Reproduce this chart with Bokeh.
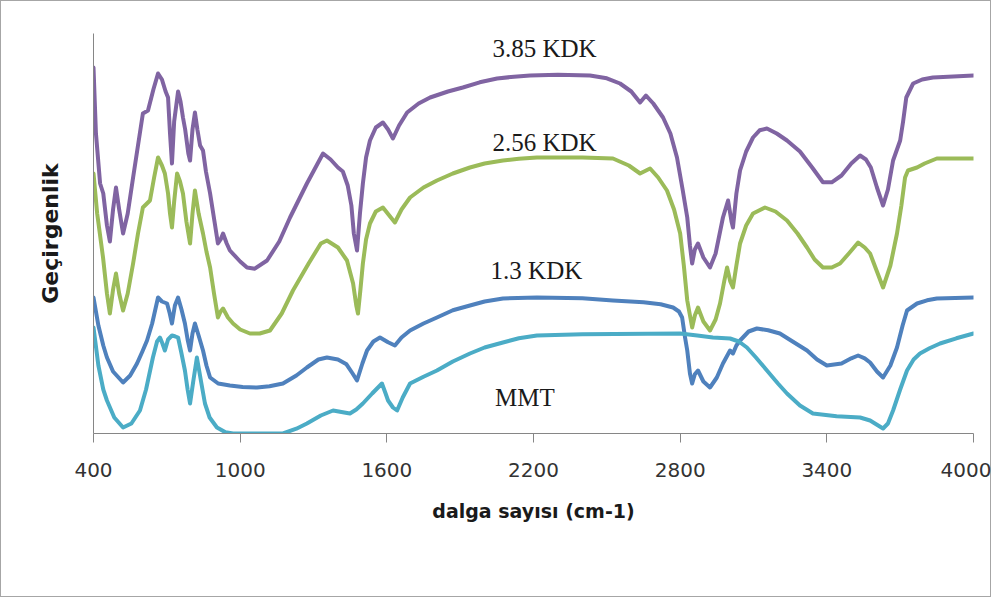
from bokeh.plotting import figure
from bokeh.models import Range1d, FixedTicker, Label, InlineStyleSheet
from bokeh.embed import file_html
from bokeh.resources import INLINE

# wavenumber (cm-1), transmittance (arbitrary units, 0-100)
KDK385 = [(400, 91.5), (410, 75), (427, 62.5), (440, 60), (455, 52), (467, 48), (480, 56), (492, 61.5),
          (505, 56), (521, 50), (540, 55), (562, 64), (582, 72), (602, 80), (623, 80.75), (645, 86), (664, 90),
          (680, 88.5), (695, 85.5), (705, 84), (713, 75), (721, 67.5), (730, 78), (746, 85.5), (756, 83),
          (766, 79), (775, 76), (788, 70), (795, 68.25), (805, 76), (815, 80.25), (825, 76), (836, 72),
          (848, 70.75), (860, 65.5), (877, 60), (895, 53), (909, 47.5), (920, 48.5), (930, 50), (945, 47.5),
          (958, 45.75), (1000, 43), (1028, 41.5), (1060, 41.2), (1110, 43.25), (1160, 48), (1204, 54),
          (1273, 62.5), (1339, 70), (1370, 68.5), (1400, 66.5), (1420, 65.5), (1440, 62), (1455, 57), (1465, 50),
          (1478, 45.75), (1490, 55), (1502, 62.5), (1515, 69), (1531, 73.25), (1555, 76.5), (1584, 77.75),
          (1605, 76), (1625, 73.75), (1650, 77), (1683, 80.25), (1730, 82.5), (1777, 84), (1850, 85.5),
          (1911, 86.5), (1980, 87.8), (2051, 88.75), (2120, 89.2), (2186, 89.5), (2300, 89.7), (2431, 89.5),
          (2500, 88.8), (2554, 87.5), (2600, 85.5), (2636, 82.75), (2660, 84.5), (2690, 82.5), (2730, 79),
          (2760, 75), (2787, 69), (2810, 61), (2829, 54), (2840, 47), (2849, 42.5), (2860, 46), (2873, 47.5),
          (2895, 44), (2922, 41.5), (2945, 45), (2975, 54), (2996, 58.25), (3010, 53), (3016, 51.5), (3030, 60),
          (3045, 65.75), (3070, 70.5), (3098, 74), (3125, 75.8), (3155, 76.25), (3195, 75), (3237, 73.25),
          (3290, 70.5), (3340, 66.5), (3384, 62.8), (3420, 62.8), (3460, 64.5), (3500, 67.5), (3536, 69.5),
          (3560, 68.5), (3580, 66.5), (3605, 61.5), (3630, 57), (3650, 61), (3671, 68.25), (3700, 73.25),
          (3712, 78), (3725, 84), (3753, 87.5), (3790, 88.5), (3834, 89), (4000, 89.5)]

KDK256 = [(400, 65), (415, 55), (439, 44), (455, 35), (467, 30), (480, 36), (492, 40), (505, 35), (521, 30.75),
          (540, 35), (562, 42.5), (582, 50), (602, 56.5), (631, 58.25), (648, 64), (664, 69), (680, 67), (692, 65),
          (705, 60), (713, 55), (721, 51.5), (730, 58), (742, 65), (754, 63), (766, 60), (780, 53), (795, 47.5),
          (805, 55), (815, 60.75), (830, 55), (848, 50), (862, 45.5), (877, 41.5), (893, 35), (909, 29),
          (920, 30.5), (930, 31.25), (950, 29), (971, 27.5), (1000, 26), (1040, 25), (1080, 25), (1122, 25.75),
          (1170, 30), (1216, 35.75), (1280, 42.5), (1330, 47.5), (1355, 48.25), (1400, 46.5), (1437, 43.25),
          (1462, 37.5), (1475, 32), (1482, 30), (1492, 36), (1502, 42.5), (1515, 48.5), (1531, 52.5), (1555, 55.5),
          (1584, 56.5), (1610, 54.5), (1633, 52.75), (1660, 56), (1695, 59), (1750, 61.5), (1805, 63.25),
          (1870, 65), (1940, 66.5), (2000, 67.5), (2075, 68.25), (2140, 68.7), (2214, 69), (2400, 69),
          (2525, 68.75), (2590, 67), (2636, 65), (2677, 66.25), (2710, 64), (2746, 60.75), (2775, 56), (2800, 50),
          (2815, 42), (2829, 33.25), (2849, 26.5), (2860, 29.5), (2873, 31.5), (2895, 28), (2922, 25.75),
          (2945, 28.5), (2963, 32.5), (2980, 38), (2992, 41.5), (3005, 38), (3016, 36.5), (3030, 42), (3045, 47.5),
          (3070, 52), (3098, 55), (3147, 56.5), (3190, 55.5), (3237, 53.25), (3280, 50), (3319, 46.5), (3350, 43.5),
          (3384, 41.5), (3420, 41.5), (3454, 42.5), (3490, 45), (3528, 47.75), (3555, 46.5), (3577, 45),
          (3605, 40.5), (3630, 36.5), (3660, 42), (3687, 50), (3705, 57), (3720, 64), (3732, 65.75), (3769, 66.5),
          (3800, 67.5), (3850, 68.75), (4000, 68.75)]

KDK13 = [(400, 34), (420, 27), (440, 22), (455, 19), (480, 15.5), (521, 12.75), (550, 14.5), (578, 17.5),
         (600, 20.5), (619, 23.25), (640, 27.5), (664, 34), (680, 33), (701, 32.5), (712, 30), (721, 27.5),
         (733, 32), (746, 34), (760, 31), (774, 27.5), (785, 23.5), (795, 20.75), (805, 25), (815, 27.5),
         (830, 24.5), (848, 20.75), (862, 17), (877, 14), (910, 12.5), (958, 12), (1010, 11.6), (1069, 11.5),
         (1120, 11.8), (1175, 12.5), (1230, 14.5), (1273, 16.5), (1320, 18.5), (1355, 19), (1400, 18.5),
         (1435, 17.3), (1460, 15), (1478, 13.25), (1500, 17.5), (1519, 20.75), (1545, 23), (1572, 24),
         (1605, 22.8), (1633, 22), (1660, 24), (1695, 25.75), (1750, 27.5), (1805, 29), (1870, 30.8), (1940, 32),
         (2000, 33), (2075, 33.75), (2214, 34), (2400, 33.8), (2525, 33.25), (2650, 32.8), (2720, 32.3),
         (2771, 31.5), (2795, 30.5), (2808, 29), (2820, 24), (2829, 20.75), (2840, 15), (2849, 12.5),
         (2860, 14.8), (2873, 15.75), (2895, 13), (2922, 11.5), (2950, 14), (2975, 17.5), (3004, 20.75),
         (3016, 20), (3030, 22), (3045, 23.25), (3080, 25.5), (3114, 26.25), (3160, 25.8), (3208, 25),
         (3260, 23), (3319, 20.75), (3360, 18.5), (3400, 17), (3460, 17.5), (3500, 18.8), (3528, 19.5),
         (3555, 18.8), (3577, 17.75), (3605, 15.5), (3630, 14), (3660, 17), (3687, 21.5), (3710, 27),
         (3728, 30.75), (3769, 32.5), (3810, 33.3), (3850, 33.75), (4000, 34)]

MMT = [(400, 26.5), (420, 17), (440, 11), (455, 8.25), (485, 4), (521, 1.5), (555, 2.5), (590, 5.75), (615, 11),
       (643, 19), (660, 23), (672, 24), (682, 22.5), (692, 20.75), (705, 23.5), (721, 24.5), (733, 24.3),
       (746, 24), (760, 20), (774, 15.75), (785, 11), (795, 7.5), (808, 13), (823, 19), (840, 13), (856, 7.5),
       (875, 4), (905, 1.5), (940, 0.3), (971, 0), (1175, 0), (1230, 1.2), (1273, 2.5), (1330, 4.5),
       (1380, 5.75), (1420, 5.3), (1449, 5), (1475, 6), (1502, 7.5), (1540, 10), (1580, 12.5), (1595, 10),
       (1605, 8.25), (1625, 6.5), (1642, 5.75), (1665, 9), (1695, 12.5), (1750, 14.2), (1805, 15.75),
       (1870, 18), (1940, 20), (2000, 21.5), (2075, 22.75), (2140, 23.8), (2214, 24.5), (2400, 24.8),
       (2800, 25), (2870, 24.5), (2934, 24), (3004, 23.75), (3040, 23), (3073, 21.5), (3110, 19), (3155, 15.75),
       (3200, 12.5), (3237, 10), (3290, 7), (3343, 5), (3440, 4.3), (3536, 4), (3577, 3.25), (3610, 2),
       (3630, 1.25), (3650, 2.5), (3671, 5.75), (3700, 11), (3728, 15.75), (3755, 18.5), (3781, 20),
       (3820, 21.3), (3863, 22.5), (3930, 23.8), (4000, 25)]

SERIES_NAMES = ["3.85 KDK", "2.56 KDK", "1.3 KDK", "MMT"]
SERIES_DATA = [KDK385, KDK256, KDK13, MMT]
SERIES_COLORS = ["#8064A2", "#9BBB59", "#4F81BD", "#4BACC6"]
# label anchor (wavenumber, transmittance) for each series name
LABEL_POS = [(2245, 96.25), (2245, 72.75), (2212, 40.75), (2165, 9.0)]

X_TICKS = [400, 1000, 1600, 2200, 2800, 3400, 4000]
X_TITLE = "dalga sayısı (cm-1)"
Y_TITLE = "Geçirgenlik"

p = figure(width=991, height=597, x_range=Range1d(400, 4000), y_range=Range1d(0, 100),
           output_backend="svg", toolbar_location=None,
           min_border_left=93, min_border_right=18, min_border_top=33, min_border_bottom=164)
p.outline_line_color = None
p.background_fill_color = "white"
p.border_fill_color = None
p.styles = {"box-shadow": "inset 0 0 0 1px #a6a6a6", "background-color": "white"}
p.stylesheets = [InlineStyleSheet(css=":host { box-shadow: inset 0 0 0 1px #a6a6a6; background: white; }")]
p.xgrid.visible = False
p.ygrid.visible = False

for data, color in zip(SERIES_DATA, SERIES_COLORS):
    xs = [d[0] for d in data]
    ys = [d[1] for d in data]
    p.line(xs, ys, line_color=color, line_width=4, line_join="round", line_cap="round")

for name, (lx, ly) in zip(SERIES_NAMES, LABEL_POS):
    p.add_layout(Label(x=lx, y=ly, text=name, text_align="center", text_baseline="alphabetic",
                       text_font="Liberation Serif", text_font_size="25px", text_color="#1a1a1a"))

xa = p.xaxis[0]
xa.ticker = FixedTicker(ticks=X_TICKS)
xa.minor_tick_line_color = None
xa.major_tick_in = 0
xa.major_tick_out = 9
xa.axis_line_color = "#868686"
xa.major_tick_line_color = "#868686"
xa.major_label_text_font = "DejaVu Sans"
xa.major_label_text_font_size = "20px"
xa.major_label_text_color = "#333333"
xa.major_label_standoff = 20
xa.axis_label = X_TITLE
xa.axis_label_text_font = "DejaVu Sans"
xa.axis_label_text_font_style = "bold"
xa.axis_label_text_font_size = "19px"
xa.axis_label_text_color = "#1a1a1a"
xa.axis_label_standoff = 20

ya = p.yaxis[0]
ya.ticker = FixedTicker(ticks=[])
ya.minor_tick_line_color = None
ya.major_tick_line_color = None
ya.axis_line_color = "#868686"
ya.axis_label = Y_TITLE
ya.axis_label_text_font = "DejaVu Sans"
ya.axis_label_text_font_style = "bold"
ya.axis_label_text_font_size = "22px"
ya.axis_label_text_color = "#1a1a1a"
ya.axis_label_standoff = 31

open("out.html", "w").write(file_html(p, INLINE))
